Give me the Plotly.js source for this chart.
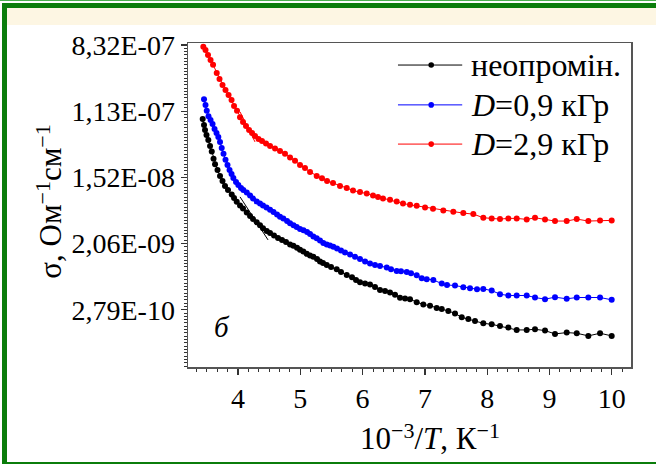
<!DOCTYPE html>
<html>
<head>
<meta charset="utf-8">
<script src="https://cdn.plot.ly/plotly-3.0.1.min.js"></script>
<style>
  html, body { margin: 0; padding: 0; background: #ffffff; }
  #wrap { position: relative; width: 656px; height: 465px; overflow: hidden; background: #ffffff; }
  .fr { position: absolute; }
  #chart { position: absolute; left: 0; top: 0; width: 656px; height: 465px; }
</style>
</head>
<body>
<div id="wrap">
  <div class="fr" style="left:0;top:0;width:656px;height:1px;background:#4caf50;"></div>
  <div class="fr" style="left:2px;top:3px;width:654px;height:5px;background:#0b7d0b;"></div>
  <div class="fr" style="left:7px;top:8px;width:649px;height:17px;background:#fdf6e3;"></div>
  <div class="fr" style="left:2px;top:3px;width:5px;height:461px;background:#0b7d0b;"></div>
  <div class="fr" style="left:2px;top:462px;width:654px;height:2px;background:#0b7d0b;"></div>
  <div id="chart"></div>
</div>
<script>
// x = 10^3/T (K^-1), y = ln(sigma), sigma in Ohm^-1 cm^-1
const xBlack = [3.433,3.454,3.470,3.494,3.523,3.551,3.578,3.607,3.631,3.671,3.711,3.751,3.791,3.839,3.899,3.936,3.979,4.032,4.080,4.140,4.193,4.241,4.300,4.353,4.401,4.461,4.514,4.578,4.642,4.706,4.770,4.835,4.888,4.947,4.995,5.048,5.103,5.156,5.209,5.268,5.316,5.364,5.424,5.493,5.584,5.653,5.745,5.830,5.894,5.958,6.039,6.119,6.199,6.279,6.360,6.440,6.520,6.600,6.681,6.761,6.868,6.974,7.082,7.189,7.270,7.376,7.483,7.591,7.697,7.804,7.937,8.072,8.205,8.339,8.473,8.634,8.767,8.928,9.088,9.276,9.437,9.623,9.811,9.998];
const lnBlack = [-16.24,-16.42,-16.57,-16.72,-16.87,-17.05,-17.22,-17.44,-17.60,-17.78,-17.96,-18.11,-18.26,-18.38,-18.52,-18.62,-18.74,-18.85,-18.94,-19.06,-19.17,-19.26,-19.36,-19.45,-19.54,-19.62,-19.68,-19.76,-19.83,-19.89,-19.95,-20.03,-20.07,-20.13,-20.19,-20.24,-20.31,-20.36,-20.40,-20.47,-20.54,-20.59,-20.65,-20.71,-20.78,-20.86,-20.95,-21.02,-21.10,-21.17,-21.21,-21.24,-21.31,-21.40,-21.43,-21.48,-21.55,-21.64,-21.66,-21.68,-21.77,-21.84,-21.88,-21.95,-21.98,-22.04,-22.11,-22.23,-22.28,-22.34,-22.41,-22.44,-22.49,-22.54,-22.61,-22.61,-22.59,-22.63,-22.73,-22.69,-22.71,-22.79,-22.71,-22.79];

const xBlue = [3.454,3.478,3.498,3.526,3.559,3.591,3.623,3.655,3.684,3.711,3.738,3.767,3.799,3.831,3.864,3.896,3.925,3.968,4.005,4.048,4.085,4.140,4.193,4.241,4.300,4.353,4.401,4.457,4.514,4.570,4.626,4.674,4.727,4.787,4.835,4.891,4.942,4.995,5.051,5.108,5.156,5.209,5.263,5.316,5.369,5.424,5.477,5.530,5.589,5.653,5.717,5.798,5.878,5.958,6.039,6.119,6.199,6.279,6.387,6.456,6.547,6.616,6.708,6.777,6.868,6.949,7.029,7.135,7.270,7.355,7.483,7.616,7.724,7.836,7.937,8.072,8.205,8.339,8.473,8.634,8.767,8.928,9.088,9.276,9.437,9.623,9.811,9.998];
const lnBlue = [-15.64,-15.81,-15.99,-16.15,-16.27,-16.39,-16.54,-16.66,-16.78,-16.93,-17.11,-17.29,-17.47,-17.63,-17.78,-17.90,-18.02,-18.14,-18.23,-18.32,-18.38,-18.46,-18.55,-18.64,-18.73,-18.79,-18.85,-18.91,-18.98,-19.05,-19.12,-19.19,-19.24,-19.32,-19.39,-19.45,-19.50,-19.56,-19.60,-19.65,-19.71,-19.79,-19.84,-19.91,-19.98,-20.03,-20.06,-20.10,-20.15,-20.21,-20.27,-20.33,-20.40,-20.47,-20.54,-20.60,-20.65,-20.68,-20.72,-20.78,-20.83,-20.84,-20.86,-20.90,-20.96,-21.05,-21.08,-21.10,-21.21,-21.25,-21.27,-21.32,-21.35,-21.38,-21.37,-21.42,-21.53,-21.57,-21.57,-21.57,-21.63,-21.68,-21.62,-21.67,-21.63,-21.63,-21.63,-21.70];

const xRed = [3.443,3.478,3.518,3.559,3.599,3.658,3.703,3.751,3.799,3.848,3.896,3.936,3.984,4.032,4.080,4.128,4.177,4.225,4.273,4.329,4.385,4.449,4.514,4.594,4.674,4.754,4.835,4.915,4.995,5.075,5.156,5.263,5.348,5.429,5.525,5.637,5.745,5.846,5.958,6.066,6.167,6.247,6.327,6.440,6.547,6.648,6.761,6.868,7.002,7.130,7.295,7.456,7.616,7.777,7.937,8.072,8.205,8.339,8.473,8.634,8.767,8.928,9.088,9.276,9.437,9.623,9.811,9.998];
const lnRed = [-14.05,-14.15,-14.30,-14.45,-14.60,-14.85,-15.03,-15.21,-15.36,-15.51,-15.66,-15.84,-15.99,-16.18,-16.33,-16.45,-16.57,-16.66,-16.75,-16.84,-16.90,-16.98,-17.05,-17.13,-17.20,-17.29,-17.40,-17.50,-17.63,-17.72,-17.84,-17.96,-18.03,-18.11,-18.17,-18.26,-18.32,-18.40,-18.44,-18.49,-18.55,-18.59,-18.64,-18.68,-18.73,-18.79,-18.83,-18.86,-18.91,-18.95,-19.00,-19.04,-19.08,-19.11,-19.22,-19.24,-19.26,-19.24,-19.24,-19.27,-19.22,-19.27,-19.32,-19.32,-19.26,-19.32,-19.30,-19.30];

// short straight fit segments
const xFitBlack = [4.032, 4.482];
const lnFitBlack = [-18.59, -19.89];
const xFitRed = [4.032, 4.273];
const lnFitRed = [-16.02, -16.93];

const seriesNames = ['неопромін.', '<i>D</i>=0,9 кГр', '<i>D</i>=2,9 кГр'];
const seriesColors = ['#000000', '#0000ff', '#ff0000'];

const yTickVals = [-14, -16, -18, -20, -22];
const yTickText = ['8,32E-07', '1,13E-07', '1,52E-08', '2,06E-09', '2,79E-10'];
const yMidTickVals = [-15, -17, -19, -21, -23];
const xTickVals = [4, 5, 6, 7, 8, 9, 10];

const FONT = 'Liberation Serif, Times New Roman, serif';
const YRANGE = [-23.73, -13.94];
const SUP = function (s) { return '<span style="font-size:22px;baseline-shift:11px">' + s + '</span>'; };
const xTitle = '10' + SUP('−3') + '/<i>T</i>, К' + SUP('−1');
const yTitle = 'σ, Ом' + SUP('−1') + 'см' + SUP('−1');

function dataTrace(x, y, i) {
  return {
    x: x, y: y, type: 'scatter', mode: 'lines+markers', name: seriesNames[i],
    line: {color: seriesColors[i], width: 1},
    marker: {color: seriesColors[i], size: 6},
    showlegend: false, hoverinfo: 'x+y'
  };
}

const traces = [
  {x: xFitBlack, y: lnFitBlack, type: 'scatter', mode: 'lines', line: {color: '#000', width: 1}, showlegend: false, hoverinfo: 'skip'},
  {x: xFitRed, y: lnFitRed, type: 'scatter', mode: 'lines', line: {color: '#ff0000', width: 1}, showlegend: false, hoverinfo: 'skip'},
  dataTrace(xBlack, lnBlack, 0),
  dataTrace(xBlue, lnBlue, 1),
  dataTrace(xRed, lnRed, 2)
];

// custom legend (paper coordinates)
const legRows = [0.932, 0.809, 0.688];
const shapes = [];
const annotations = [];
for (let i = 0; i < 3; i++) {
  shapes.push({type: 'line', xref: 'paper', yref: 'paper', x0: 0.474, x1: 0.619, y0: legRows[i], y1: legRows[i],
               line: {color: seriesColors[i], width: 1}});
  shapes.push({type: 'circle', xref: 'paper', yref: 'paper', xsizemode: 'pixel', ysizemode: 'pixel',
               xanchor: 0.549, yanchor: legRows[i], x0: -2.8, x1: 2.8, y0: -2.8, y1: 2.8,
               fillcolor: seriesColors[i], line: {width: 0}});
  annotations.push({xref: 'paper', yref: 'paper', x: 0.635, y: legRows[i], xanchor: 'left', yanchor: 'middle',
                    text: seriesNames[i], showarrow: false, font: {family: FONT, size: 32, color: '#000'}});
}
annotations.push({xref: 'paper', yref: 'paper', x: 0.546, y: -0.215, xanchor: 'center', yanchor: 'middle',
                  text: xTitle, showarrow: false, font: {family: FONT, size: 31, color: '#000'}});
annotations.push({xref: 'paper', yref: 'paper', x: -0.314, y: 0.51, xanchor: 'center', yanchor: 'middle',
                  textangle: -90, text: yTitle, showarrow: false, font: {family: FONT, size: 31, color: '#000'}});
annotations.push({xref: 'paper', yref: 'paper', x: 0.077, y: 0.123, xanchor: 'center', yanchor: 'middle',
                  text: '<i>б</i>', showarrow: false, font: {family: FONT, size: 29, color: '#000'}});

const layout = {
  width: 656, height: 465,
  margin: {l: 188, r: 25, t: 43, b: 98, pad: 0},
  paper_bgcolor: 'rgba(0,0,0,0)',
  plot_bgcolor: '#ffffff',
  font: {family: FONT, color: '#000'},
  showlegend: false,
  xaxis: {
    range: [3.197, 10.308], tickmode: 'array', tickvals: xTickVals,
    ticks: 'outside', ticklen: 6, tickwidth: 1.2, tickcolor: '#333',
    showline: true, linecolor: '#555', linewidth: 1.5, mirror: true,
    showgrid: false, zeroline: false,
    tickfont: {family: FONT, size: 28, color: '#000'},
    minor: {ticks: 'outside', ticklen: 3, tickwidth: 1, tickcolor: '#333', tickmode: 'linear', tick0: 0, dtick: 1/6, showgrid: false}
  },
  yaxis: {
    range: YRANGE, tickmode: 'array', tickvals: yTickVals, ticktext: yTickText,
    ticks: 'outside', ticklen: 6, tickwidth: 1.2, tickcolor: '#333',
    showline: true, linecolor: '#555', linewidth: 1.5, mirror: true,
    showgrid: false, zeroline: false,
    tickfont: {family: FONT, size: 28, color: '#000'},
    minor: {ticks: 'outside', ticklen: 3, tickwidth: 1, tickcolor: '#333', tickmode: 'linear', tick0: 0, dtick: 0.1, showgrid: false}
  },
  yaxis2: {
    overlaying: 'y', anchor: 'x', side: 'left', range: YRANGE,
    tickmode: 'array', tickvals: yMidTickVals, showticklabels: false,
    ticks: 'outside', ticklen: 6, tickwidth: 1.2, tickcolor: '#333',
    showline: false, showgrid: false, zeroline: false
  },
  shapes: shapes,
  annotations: annotations
};

Plotly.newPlot('chart', traces, layout, {displayModeBar: false, staticPlot: true});
</script>
</body>
</html>
